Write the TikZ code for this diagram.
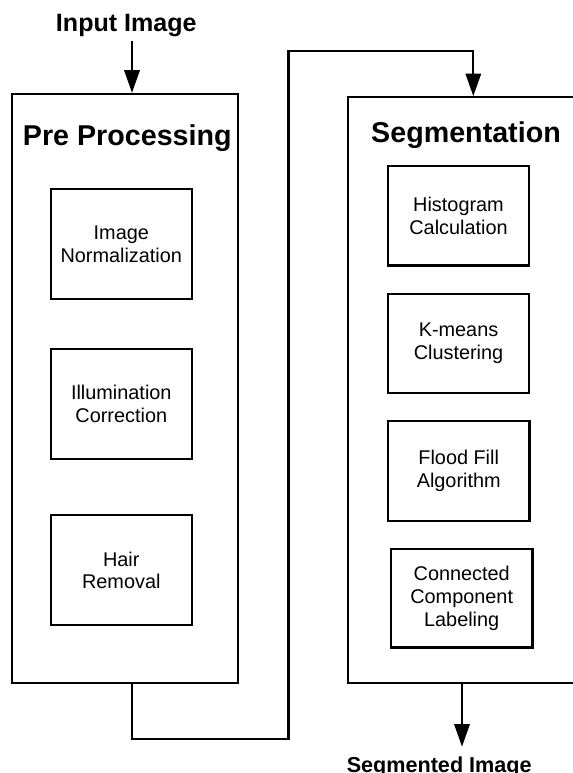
\documentclass[tikz,border=0pt]{standalone}
\usepackage{fontspec}
\setmainfont{Liberation Sans}
\usetikzlibrary{arrows.meta}
\begin{document}
\begin{tikzpicture}[x=0.75pt,y=-0.75pt,
  lw/.style={line width=1.7pt},
  outerbox/.style={draw,lw,inner sep=0pt},
  stepbox/.style={draw,lw,inner sep=0pt,align=center,font=\fontsize{14.9}{17}\selectfont},
  titletext/.style={inner sep=0pt,font=\fontsize{21.5}{25}\selectfont\bfseries},
  iotext/.style={inner sep=0pt,font=\fontsize{18.8}{22}\selectfont\bfseries},
  arr/.style={lw,-{Triangle[length=17pt,width=11.5pt]}}
]
\useasboundingbox (0,0) rectangle (573,773);
\clip (0,0) rectangle (573,773);
% outer boxes
\node[outerbox, minimum width=169.5pt, minimum height=441.75pt] (pre) at (125.3,388.5) {};
\node[outerbox, minimum width=181.3pt, minimum height=439pt] (seg) at (469.2,390) {};
% titles
\node[titletext, anchor=base] (pretitle) at (127.3,146) {Pre Processing};
\node[titletext, anchor=base] (segtitle) at (466,143) {Segmentation};
% pre processing steps
\node[stepbox, minimum width=106pt, minimum height=82.5pt] (norm) at (121.3,244) {Image\\Normalization};
\node[stepbox, minimum width=106pt, minimum height=82.5pt] (illum) at (121.3,403.7) {Illumination\\Correction};
\node[stepbox, minimum width=106pt, minimum height=82.5pt] (hair) at (121.3,570.3) {Hair\\Removal};
% segmentation steps
\node[stepbox, minimum width=106pt, minimum height=74.5pt] (hist) at (458.5,215.8) {Histogram\\Calculation};
\node[stepbox, minimum width=106pt, minimum height=74.5pt] (kmeans) at (458.5,343.3) {K-means\\Clustering};
\node[stepbox, minimum width=106pt, minimum height=74.5pt] (flood) at (458.7,471) {Flood Fill\\Algorithm};
\node[stepbox, minimum width=106pt, minimum height=74pt] (ccl) at (461.7,598.2) {Connected\\Component\\Labeling};
% input / output
\node[iotext, anchor=base] (input) at (126.3,32) {Input Image};
\node[iotext, anchor=base, font=\fontsize{16.2}{19}\selectfont\bfseries] (output) at (439.2,772) {Segmented Image};
% connectors
\coordinate (inA) at (132,41);
\draw[arr] (inA) -- (inA |- pre.north);
\coordinate (l1) at (132,738.7);
\coordinate (l2) at (288.5,738.7);
\coordinate (l3) at (288.5,51);
\coordinate (l4) at (473.3,51);
\draw[arr] (pre.south -| l1) -- (l1) -- (l2) -- (l3) -- (l4) -- (l4 |- seg.north);
\coordinate (outA) at (462,746.7);
\draw[arr] (seg.south -| outA) -- (outA);
\end{tikzpicture}
\end{document}
